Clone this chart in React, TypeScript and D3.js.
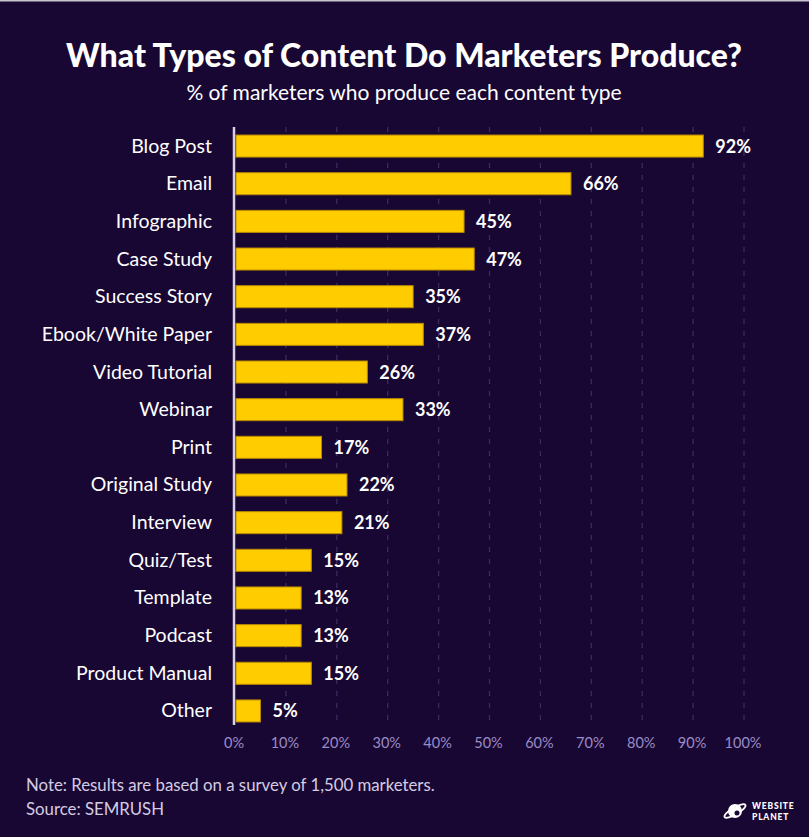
import React from "react";
import * as d3 from "d3";

const categories = [
  "Blog Post", "Email", "Infographic", "Case Study", "Success Story",
  "Ebook/White Paper", "Video Tutorial", "Webinar", "Print", "Original Study",
  "Interview", "Quiz/Test", "Template", "Podcast", "Product Manual", "Other",
];
const values = [92, 66, 45, 47, 35, 37, 26, 33, 17, 22, 21, 15, 13, 13, 15, 5];
const ticks = [0, 10, 20, 30, 40, 50, 60, 70, 80, 90, 100];

const W = 809;
const H = 837;
const FONT = "Lato, 'Open Sans', sans-serif";

export default function App() {
  const x = d3.scaleLinear().domain([0, 100]).range([235, 744]);
  const y = d3.scaleBand().domain(categories).range([127.5, 729.5]).paddingInner(0.415).paddingOuter(0.2);
  const bw = y.bandwidth();

  return (
    <div style={{ position: "absolute", left: 0, top: 0 }}>
      <svg width={W} height={H} style={{ display: "block" }}>
        <rect x={0} y={0} width={W} height={H} fill="#190733" />
        <rect x={0} y={0} width={W} height={1.5} fill="#c8c4cc" />
        <text x={404} y={67} textAnchor="middle" fill="#ffffff" fontFamily={FONT} fontWeight={900} fontSize={32}>
          What Types of Content Do Marketers Produce?
        </text>
        <text x={404} y={100} textAnchor="middle" fill="#ffffff" fontFamily={FONT} fontWeight={400} fontSize={21}>
          % of marketers who produce each content type
        </text>

        {ticks.slice(1).map((t) => (
          <line key={t} x1={x(t)} x2={x(t)} y1={127} y2={726} stroke="#3b2a60" strokeWidth={1.3} strokeDasharray="5,7" />
        ))}

        {categories.map((c, i) => (
          <g key={c}>
            <rect x={x(0) + 1} y={y(c)!} width={x(values[i]) - x(0) - 1} height={bw} fill="#ffcc00" stroke="#b88a00" strokeWidth={1} />
            <text x={212} y={y(c)! + bw / 2 + 6.5} textAnchor="end" fill="#ffffff" fontFamily={FONT} fontSize={19.5}>
              {c}
            </text>
            <text x={x(values[i]) + 12} y={y(c)! + bw / 2 + 6.5} fill="#ffffff" fontFamily={FONT} fontWeight={700} fontSize={18}>
              {values[i]}%
            </text>
          </g>
        ))}

        <line x1={234} x2={234} y1={127} y2={725} stroke="#d8d0e8" strokeWidth={2.5} />

        {ticks.map((t) => (
          <text key={t} x={x(t) - 1} y={748} textAnchor="middle" fill="#9a8cc6" fontFamily={FONT} fontSize={14.5}>
            {t}%
          </text>
        ))}

        <text x={26} y={791} fill="#d4cce2" fontFamily={FONT} fontSize={16.8}>
          Note: Results are based on a survey of 1,500 marketers.
        </text>
        <text x={26} y={815} fill="#d4cce2" fontFamily={FONT} fontSize={16.8}>
          Source: SEMRUSH
        </text>

        <g transform="translate(735,811)">
          <circle cx={0} cy={0} r={7} fill="#ffffff" />
          <ellipse cx={0} cy={0} rx={12} ry={3.5} fill="none" stroke="#ffffff" strokeWidth={1.8} transform="rotate(-30)" />
          <circle cx={2} cy={2} r={2.5} fill="#190733" />
        </g>
        <text x={752} y={809} fill="#ffffff" fontFamily={FONT} fontWeight={900} fontSize={8.5} letterSpacing={0.8}>
          WEBSITE
        </text>
        <text x={752} y={820} fill="#ffffff" fontFamily={FONT} fontWeight={900} fontSize={8.5} letterSpacing={0.8}>
          PLANET
        </text>
      </svg>
    </div>
  );
}
